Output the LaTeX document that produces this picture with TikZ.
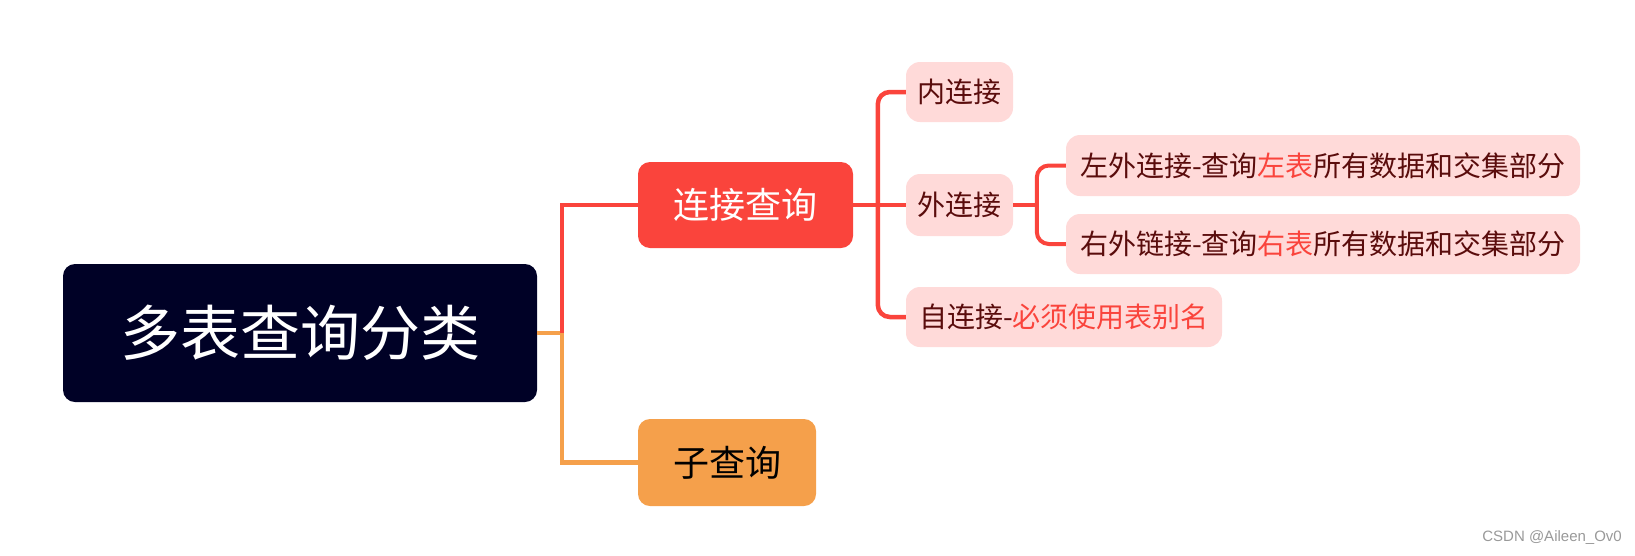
\documentclass[tikz,border=0pt]{standalone}
\usepackage{fontspec}
\usepackage{xcolor}
\setmainfont{Noto Sans CJK SC}
\newfontfamily\markfont{Liberation Sans}
\definecolor{rootnavy}{HTML}{000126}
\definecolor{joinred}{HTML}{FA443C}
\definecolor{suborange}{HTML}{F5A04B}
\definecolor{leafpink}{HTML}{FFDAD9}
\definecolor{leafbrown}{HTML}{5A0C0C}

\begin{document}
\begin{tikzpicture}[x=1pt,y=-1pt]
		\tikzstyle{every node}+=[inner sep=0pt]
		\tikzstyle{rootbox}=[fill=rootnavy, text=white, rounded corners=12pt, font=\fontsize{60}{60}\selectfont]
		\tikzstyle{branchbox}=[rounded corners=12pt, font=\fontsize{36}{36}\selectfont]
		\tikzstyle{leafbox}=[fill=leafpink, text=leafbrown, rounded corners=14pt, font=\fontsize{28}{28}\selectfont]
		\tikzstyle{redline}=[draw=joinred, line width=4.5pt]
		\useasboundingbox (0,0) rectangle (1635,555);
		\node [rootbox, minimum width=474pt, minimum height=138pt] (root) at (300,333) {多表查询分类};
		\node [branchbox, fill=joinred, text=white, minimum width=215pt, minimum height=86pt] (join) at (745.5,205) {连接查询};
		\node [branchbox, fill=suborange, text=black, minimum width=178pt, minimum height=87pt] (sub) at (727,462.5) {子查询};
		\node [leafbox, minimum width=107pt, minimum height=60pt] (inner) at (959.5,92) {内连接};
		\node [leafbox, minimum width=107pt, minimum height=62pt] (outer) at (959.5,205) {外连接};
		\node [leafbox, minimum width=316pt, minimum height=60pt] (self) at (1064,317) {自连接-\textcolor{joinred}{必须使用表别名}};
		\node [leafbox, minimum width=514pt, minimum height=61pt] (left) at (1323,165.5) {左外连接-查询\textcolor{joinred}{左表}所有数据和交集部分};
		\node [leafbox, minimum width=514pt, minimum height=60pt] (right) at (1323,244) {右外链接-查询\textcolor{joinred}{右表}所有数据和交集部分};
		\coordinate (fork) at (562,333);
		\draw [draw=suborange, line width=4.5pt] (root.east) -- (fork) |- (sub.west);
		\draw [redline] (fork) |- (join.west);
		\draw [redline] (join.east) -- (outer.west);
		\draw [redline, rounded corners=12pt] (inner.west) -- ++(-28,0) |- (self.west);
		\draw [redline, line width=4pt] (outer.east) -- ++(24,0);
		\draw [redline, line width=4pt, rounded corners=12pt] (left.west) -- ++(-29,0) |- (right.west);
		\node [text=black!40, font=\markfont\fontsize{15}{15}\selectfont, anchor=east] (mark) at (1622,538) {CSDN @Aileen\_Ov0};
	\end{tikzpicture}
\end{document}
